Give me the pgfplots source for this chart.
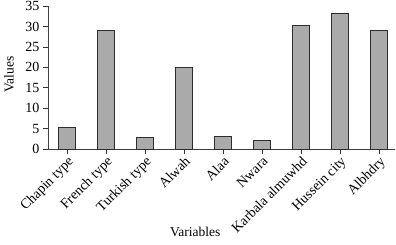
\documentclass[border=0pt]{standalone}
\usepackage{fontspec}
\setmainfont{Liberation Serif}
\usepackage{pgfplots}
\pgfplotsset{compat=1.18}
\definecolor{barfill}{RGB}{170,170,170}
\definecolor{baredge}{RGB}{45,45,45}
\begin{document}
\begin{tikzpicture}
\begin{axis}[
  scale only axis,
  width=347pt, height=143pt,
  at={(0,0)}, anchor=south west,
  axis lines=left,
  axis line style={-, draw=black!75, line width=0.8pt},
  xmin=-0.487, xmax=8.41,
  ymin=0, ymax=35,
  ytick={0,5,...,35},
  xtick={0,...,8},
  xticklabels={Chapin type,French type,Turkish type,Alwah,Alaa,Nwara,Karbala almuwhd,Hussein city,Albhdry},
  x tick label style={rotate=45, anchor=north east, inner sep=1pt},
  tick align=outside,
  major tick length=5pt,
  tick style={draw=black!80, line width=0.7pt},
  every tick label/.append style={font=\fontsize{14}{16}\selectfont},
  /pgf/number format/assume math mode=true,
  xlabel={Variables},
  ylabel={Values},
  label style={font=\fontsize{13.5}{15}\selectfont},
  xlabel style={at={([yshift=-83pt]axis description cs:0.424,0)}, anchor=center},
  ylabel style={at={([xshift=-39pt]axis description cs:0,0.52)}, anchor=center},
  clip=false,
]
\addplot[ybar, bar width=17pt, fill=barfill, draw=baredge, line width=0.8pt] coordinates {
  (0,5.2) (1,29.1) (2,2.9) (3,20.0) (4,3.0) (5,2.2) (6,30.2) (7,33.1) (8,29.0)
};
\end{axis}
\pgfresetboundingbox
\path[use as bounding box] (-48pt,-95pt) rectangle (348pt,149pt);
\end{tikzpicture}
\end{document}
